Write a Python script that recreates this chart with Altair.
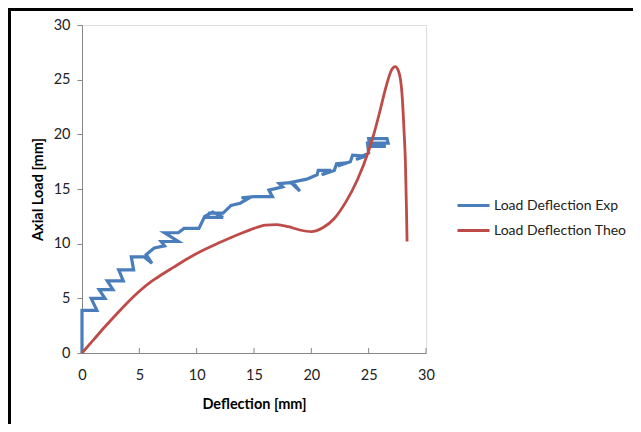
import altair as alt
import pandas as pd

# Experimental load-deflection (zig-zag trace, in drawing order)
exp_x = [0, 0, 1.3, 0.8, 2.0, 1.5, 2.7, 2.2, 3.6, 3.2, 4.5, 4.3, 5.4, 6.1, 5.6, 6.3, 7.2, 6.9, 8.4,
         7.2, 8.4, 8.9, 10.2, 10.7, 11.4, 12.3, 10.9, 11.1, 12.3, 13.0, 13.8, 14.6, 13.9, 15.0, 16.6,
         16.3, 17.5, 17.2, 18.4, 19.0, 18.2, 19.6, 20.5, 20.6, 21.7, 20.9, 22.0, 22.2, 23.1, 22.3,
         23.4, 23.6, 24.7, 23.9, 25.0, 24.9, 26.7, 26.6, 25.0, 25.1, 26.5]
exp_y = [0, 3.9, 3.9, 5.0, 5.0, 5.8, 5.8, 6.6, 6.6, 7.6, 7.6, 8.8, 8.8, 8.2, 9.0, 9.6, 9.8, 10.2, 10.2,
         11.0, 11.0, 11.4, 11.4, 12.5, 12.9, 12.4, 12.4, 12.8, 12.8, 13.5, 13.7, 14.2, 14.2, 14.3, 14.3,
         14.9, 15.2, 15.5, 15.6, 14.8, 15.6, 15.9, 16.3, 16.7, 16.7, 16.3, 16.7, 17.3, 17.4, 17.1,
         17.5, 18.1, 18.0, 17.7, 18.3, 19.2, 19.2, 19.6, 19.6, 18.9, 18.9]

# Theoretical load-deflection curve
theo_x = [0, 1, 2, 3, 4, 5, 6, 7, 8, 9, 10, 12, 14, 15, 16, 17, 18, 19, 20, 21, 22, 23, 24, 25,
          25.5, 26, 26.5, 27, 27.3, 27.6, 27.9, 28.1, 28.2, 28.3, 28.35]
theo_y = [0, 1.2, 2.4, 3.55, 4.65, 5.65, 6.5, 7.2, 7.85, 8.5, 9.1, 10.1, 11.0, 11.4, 11.7, 11.75, 11.55,
          11.25, 11.1, 11.45, 12.3, 13.8, 15.8, 18.5, 20.2, 22.2, 24.3, 25.9, 26.2, 25.8, 23.8, 20.0,
          17.6, 13.0, 10.2]

series = ["Load Deflection Exp", "Load Deflection Theo"]
colors = ["#4A7EBB", "#BE4B48"]
x_ticks = [0, 5, 10, 15, 20, 25, 30]
y_ticks = [0, 5, 10, 15, 20, 25, 30]

FONT = "Lato"

exp_df = pd.DataFrame({"x": exp_x, "y": exp_y, "series": series[0], "i": range(len(exp_x))})
theo_df = pd.DataFrame({"x": theo_x, "y": theo_y, "series": series[1], "i": range(len(theo_x))})

xscale = alt.Scale(domain=[0, 30], nice=False)
yscale = alt.Scale(domain=[0, 30], nice=False)
cscale = alt.Scale(domain=series, range=colors)

xaxis = alt.Axis(values=x_ticks, title="Deflection [mm]", grid=False, ticks=False, tickSize=0,
                 labelPadding=15, labelFlush=False, domainColor="#868686", labelFont=FONT,
                 labelFontSize=14.5, labelColor="#222222", titleFont=FONT, titleFontSize=14.5,
                 titleFontWeight="bold", titleColor="#000000", titleY=51, titleBaseline="middle")
yaxis = alt.Axis(values=y_ticks, title="Axial Load [mm]", grid=False, tickSize=5, tickColor="#868686",
                 labelPadding=7, labelFlush=False, domainColor="#868686", labelFont=FONT,
                 labelFontSize=14.5, labelColor="#222222", titleFont=FONT, titleFontSize=14.5,
                 titleFontWeight="bold", titleColor="#000000", titleX=-44, titleBaseline="middle")

legend = alt.Legend(title=None, orient="none", legendX=374, legendY=163, symbolType="stroke",
                    symbolSize=1024, symbolStrokeWidth=3, labelFont=FONT, labelFontSize=14,
                    labelColor="#222222", labelOffset=3, rowPadding=0, labelLimit=300)

exp_line = alt.Chart(exp_df).mark_line(strokeWidth=3.2, interpolate="linear").encode(
    x=alt.X("x:Q", scale=xscale, axis=xaxis),
    y=alt.Y("y:Q", scale=yscale, axis=yaxis),
    color=alt.Color("series:N", scale=cscale, legend=legend),
    order="i:Q",
)
theo_line = alt.Chart(theo_df).mark_line(strokeWidth=2.8, interpolate="monotone").encode(
    x=alt.X("x:Q", scale=xscale),
    y=alt.Y("y:Q", scale=yscale),
    color=alt.Color("series:N", scale=cscale, legend=legend),
    order="i:Q",
)

tick_df = pd.DataFrame({"t": x_ticks})
xticks_layer = alt.Chart(tick_df).mark_rule(color="#868686", strokeWidth=1).encode(
    x=alt.X("t:Q", scale=xscale),
    y=alt.value(328), y2=alt.value(323),
)

one = pd.DataFrame({"a": [0]})
border_top = alt.Chart(one).mark_rule(color="#000000", strokeWidth=3).encode(
    x=alt.value(-74), x2=alt.value(560), y=alt.value(-15.5))
border_left = alt.Chart(one).mark_rule(color="#000000", strokeWidth=3).encode(
    x=alt.value(-72.5), y=alt.value(-17), y2=alt.value(420))

chart = alt.layer(xticks_layer, exp_line, theo_line, border_top, border_left).properties(
    width=344, height=328,
    autosize=alt.AutoSizeParams(type="none"),
    padding={"left": 74, "top": 17, "right": 207, "bottom": 71},
).configure_view(stroke=None).configure(background="#ffffff")

chart.save("out.html", embed_options={"renderer": "svg", "actions": False})
